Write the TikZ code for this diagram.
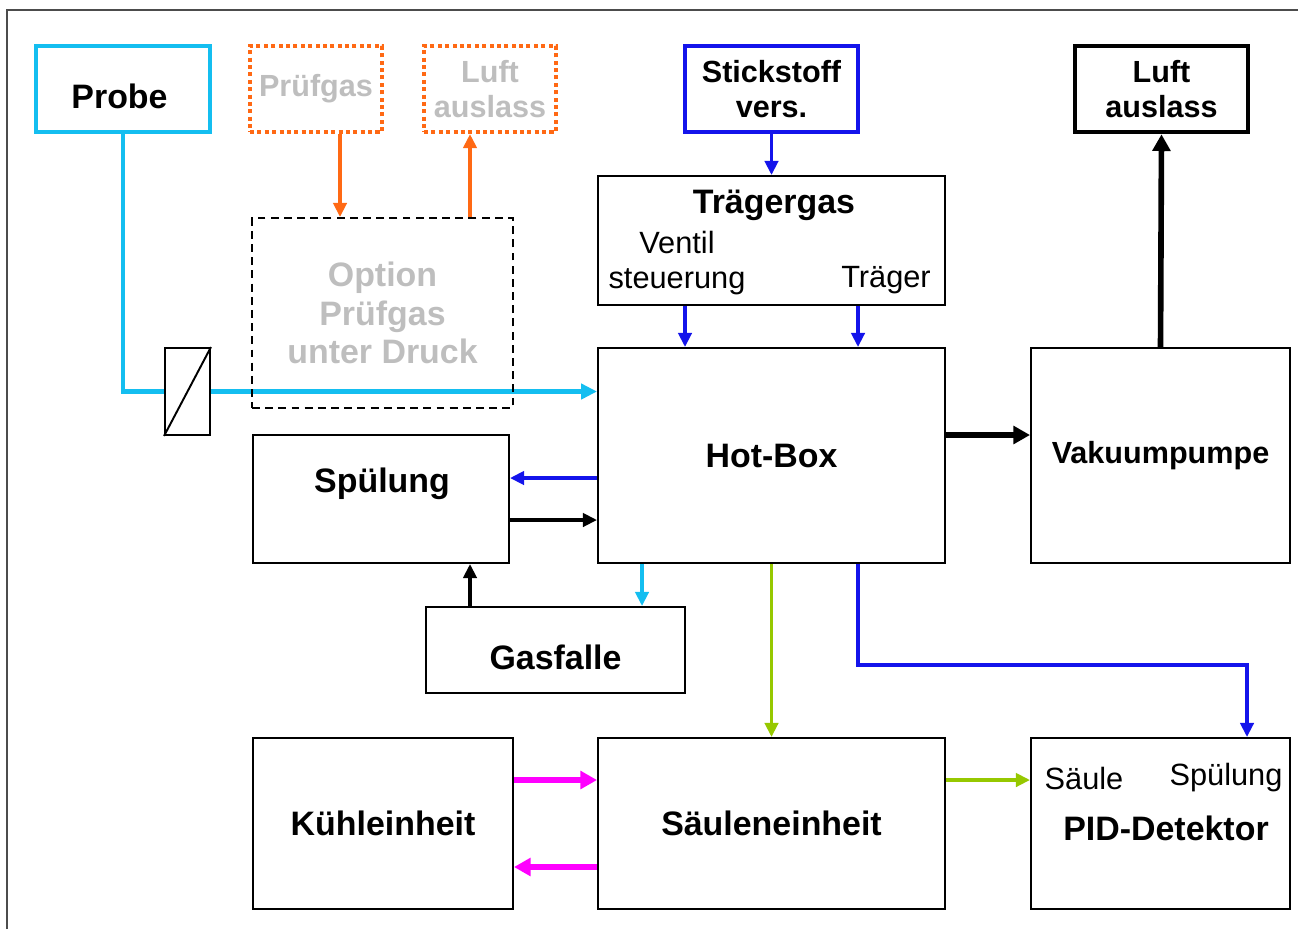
\documentclass[tikz,border=0pt]{standalone}
\usepackage{fontspec}
\setmainfont{Liberation Sans}
\usetikzlibrary{arrows.meta}
\pgfdeclarelayer{edgelayer}
\pgfdeclarelayer{nodelayer}
\pgfsetlayers{edgelayer,nodelayer,main}
\definecolor{probecyan}{RGB}{20,190,240}
\definecolor{gasblue}{RGB}{20,20,235}
\definecolor{testorange}{RGB}{255,105,20}
\definecolor{columngreen}{RGB}{150,200,0}
\definecolor{coolmagenta}{RGB}{255,0,255}
\definecolor{optiongray}{RGB}{190,190,190}
\tikzstyle{unit}=[rectangle,draw=black,fill=white,line width=1.1pt,inner sep=0pt,align=center,font=\bfseries\fontsize{19.3}{22}\selectfont]
\tikzstyle{supply}=[unit,line width=2.3pt,font=\bfseries\fontsize{17.4}{20}\selectfont]
\tikzstyle{optional}=[supply,draw=testorange,dash pattern=on 2.3pt off 1.9pt,text=optiongray]
\tikzstyle{title}=[font=\bfseries\fontsize{19.3}{22}\selectfont]
\tikzstyle{port}=[font=\fontsize{17.5}{20}\selectfont,align=center]
\tikzstyle{flow}=[-{Triangle[length=8pt,width=7.5pt]},line width=2.1pt]
\tikzstyle{mainflow}=[-{Triangle[length=9pt,width=8.5pt]},line width=2.6pt]
\tikzstyle{heavyflow}=[-{Triangle[length=9.5pt,width=10pt]},line width=3.2pt]

\begin{document}
\begin{tikzpicture}
	\useasboundingbox (0,0) rectangle (25.96,-18.58);
	\draw [line width=1.1pt, draw=black!70] (0.14,-18.58) -- (0.14,-0.20) -- (25.96,-0.20);
	\begin{pgfonlayer}{nodelayer}
		\node [style=supply, draw=probecyan, font=\bfseries\fontsize{19.3}{22}\selectfont, minimum width=3.48cm, minimum height=1.72cm] (0) at (2.46, -1.78) {\raisebox{-0.14cm}[\height][\depth]{Probe}\hspace{0.14cm}};
		\node [style=optional, minimum width=2.64cm, minimum height=1.72cm] (1) at (6.32, -1.78) {Prüfgas};
		\node [style=optional, minimum width=2.64cm, minimum height=1.72cm] (2) at (9.80, -1.78) {Luft\\auslass};
		\node [style=supply, draw=gasblue, minimum width=3.46cm, minimum height=1.72cm] (3) at (15.43, -1.78) {Stickstoff\\vers.};
		\node [style=supply, line width=2.6pt, minimum width=3.46cm, minimum height=1.72cm] (4) at (23.23, -1.78) {Luft\\auslass};
		\node [style=unit, minimum width=6.94cm, minimum height=2.58cm] (5) at (15.43, -4.81) {};
		\node [style=unit, fill=none, dash pattern=on 4.5pt off 3pt, text=optiongray, minimum width=5.22cm, minimum height=3.80cm] (6) at (7.65, -6.26) {Option\\Prüfgas\\unter Druck};
		\node [style=unit, minimum width=6.94cm, minimum height=4.30cm] (7) at (15.43, -9.11) {Hot-Box};
		\node [style=unit, font=\bfseries\fontsize{17.4}{20}\selectfont, minimum width=5.18cm, minimum height=4.30cm] (8) at (23.21, -9.11) {Vakuumpumpe};
		\node [style=unit, minimum width=5.12cm, minimum height=2.56cm] (9) at (7.62, -9.98) {};
		\node [style=unit, minimum width=5.18cm, minimum height=1.72cm] (10) at (11.11, -13.00) {\raisebox{-0.14cm}[\height][\depth]{Gasfalle}};
		\node [style=unit, minimum width=5.20cm, minimum height=3.42cm] (11) at (7.66, -16.47) {Kühleinheit};
		\node [style=unit, minimum width=6.94cm, minimum height=3.42cm] (12) at (15.43, -16.47) {Säuleneinheit};
		\node [style=unit, minimum width=5.18cm, minimum height=3.42cm] (13) at (23.21, -16.47) {};
		\node [style=unit, minimum width=0.90cm, minimum height=1.74cm] (14) at (3.75, -7.83) {};
		\node [style=title] (15) at (15.48, -4.10) {Trägergas};
		\node [style=port] (16) at (13.54, -5.26) {Ventil\\steuerung};
		\node [style=port] (17) at (17.72, -5.60) {Träger};
		\node [style=title] (18) at (7.64, -9.68) {Spülung};
		\node [style=port] (19) at (21.68, -15.56) {Säule};
		\node [style=port] (20) at (24.52, -15.56) {Spülung};
		\node [style=title] (21) at (23.32, -16.56) {PID-Detektor};
	\end{pgfonlayer}
	\begin{pgfonlayer}{edgelayer}
		\draw [style=mainflow, -, color=probecyan] (0.south) |- (14.west);
		\draw [style=mainflow, color=probecyan] (14.east) -- (14.east -| 7.west);
		\draw [style=flow, color=testorange] (6.80,0 |- 1.south) -- (6.80,0 |- 6.north);
		\draw [style=flow, color=testorange] (9.40,0 |- 6.north) -- (9.40,0 |- 2.south);
		\draw [style=flow, color=gasblue] (3.south) -- (5.north);
		\draw [style=flow, color=gasblue] (13.70,0 |- 5.south) -- (13.70,0 |- 7.north);
		\draw [style=flow, color=gasblue] (17.16,0 |- 5.south) -- (17.16,0 |- 7.north);
		\draw [style=heavyflow] (7.east |- 0,-8.70) -- (8.west |- 0,-8.70);
		\draw [style=heavyflow] (8.north) -- (4.south);
		\draw [style=flow, color=gasblue] (7.west |- 0,-9.56) -- (9.east |- 0,-9.56);
		\draw [style=flow] (9.east |- 0,-10.40) -- (7.west |- 0,-10.40);
		\draw [style=flow] (9.40,0 |- 10.north) -- (9.40,0 |- 9.south);
		\draw [style=flow, color=probecyan] (12.84,0 |- 7.south) -- (12.84,0 |- 10.north);
		\draw [style=flow, color=columngreen] (7.south) -- (12.north);
		\draw [style=flow, color=gasblue] (17.16,0 |- 7.south) |- (24.94,-13.30) -- (24.94,0 |- 13.north);
		\draw [style=flow, color=columngreen] (12.east |- 0,-15.60) -- (13.west |- 0,-15.60);
		\draw [style=heavyflow, color=coolmagenta] (11.east |- 0,-15.60) -- (12.west |- 0,-15.60);
		\draw [style=heavyflow, color=coolmagenta] (12.west |- 0,-17.34) -- (11.east |- 0,-17.34);
	\end{pgfonlayer}
	\draw [line width=1.1pt] (14.south west) -- (14.north east);
\end{tikzpicture}
\end{document}
